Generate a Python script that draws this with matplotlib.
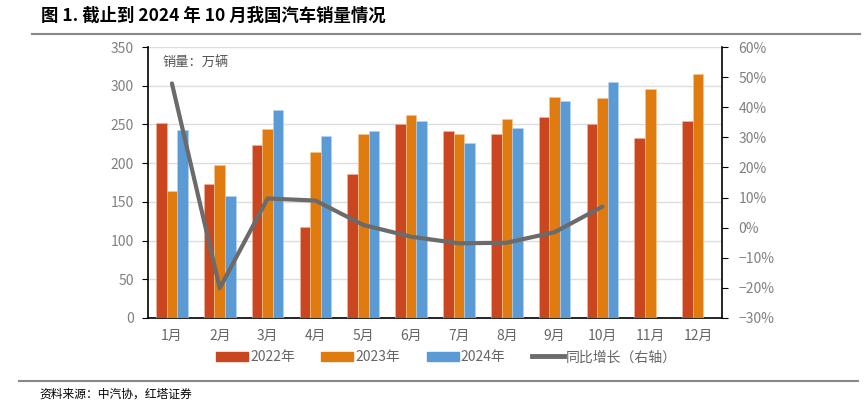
import numpy as np
import matplotlib.pyplot as plt
from matplotlib.lines import Line2D
from matplotlib.patches import Patch

plt.rcParams['font.family'] = ['Noto Sans CJK SC', 'DejaVu Sans']

months = ['1月', '2月', '3月', '4月', '5月', '6月', '7月', '8月', '9月', '10月', '11月', '12月']
sales_2022 = [252, 173, 223, 117, 186, 250, 242, 238, 260, 250, 232, 255]
sales_2023 = [164, 197, 244, 215, 238, 262, 238, 257, 285, 284, 296, 315]
sales_2024 = [243, 158, 269, 235, 241, 255, 226, 245, 280, 305, np.nan, np.nan]
yoy = [47.9, -20.1, 9.7, 9.0, 0.9, -3.0, -5.2, -5.0, -1.5, 7.0]  # %

c22 = '#C9461F'
c23 = '#E07B10'
c24 = '#5B9BD5'
cline = '#6B6B6B'
tick_c = '#808080'

fig = plt.figure(figsize=(8.67, 4.16), dpi=100)
ax = fig.add_axes([0.1707, 0.2356, 0.6621, 0.6514])

x = np.arange(len(months))
w = 0.22
ax.bar(x - w, sales_2022, w, color=c22, edgecolor='#F0B8A0', linewidth=0.4, zorder=3)
ax.bar(x, sales_2023, w, color=c23, edgecolor='#F5C890', linewidth=0.4, zorder=3)
ax.bar(x + w, sales_2024, w, color=c24, edgecolor='#B8D4EE', linewidth=0.4, zorder=3)

ax.set_xlim(-0.5, 11.5)
ax.set_ylim(0, 350)
ax.set_yticks(range(0, 351, 50))
ax.set_xticks(x)
ax.set_xticklabels(months)
ax.yaxis.grid(True, color='#DDDDDD', linewidth=1, zorder=0)
ax.tick_params(axis='both', colors=tick_c, labelsize=10, length=0, pad=6)
ax.tick_params(axis='y', length=4, direction='out', color='black', labelcolor=tick_c)
ax.tick_params(axis='x', labelcolor='#666666', pad=8)
for s in ['left', 'bottom']:
    ax.spines[s].set_color('black')
    ax.spines[s].set_linewidth(1.2)
ax.spines['top'].set_visible(False)
ax.spines['right'].set_visible(False)

ax.text(0.025, 0.945, '销量：万辆', transform=ax.transAxes, fontsize=9.5,
        color='#555555', va='center', ha='left')

ax2 = ax.twinx()
ax2.plot(x[:len(yoy)], yoy, color=cline, linewidth=3, zorder=5, solid_capstyle='round')
ax2.set_ylim(-30, 60)
ax2.set_yticks(range(-30, 61, 10))
ax2.set_yticklabels([f'{v}%'.replace('-', '−') for v in range(-30, 61, 10)])
ax2.tick_params(axis='y', colors='black', labelcolor=tick_c, labelsize=10, length=4, pad=8)
for s in ['left', 'top', 'bottom']:
    ax2.spines[s].set_visible(False)
ax2.spines['right'].set_color('black')
ax2.spines['right'].set_linewidth(1.2)

handles = [Patch(color=c22, label='2022年'), Patch(color=c23, label='2023年'),
           Patch(color=c24, label='2024年'),
           Line2D([0], [0], color=cline, linewidth=3.5, label='同比增长（右轴）')]
fig.legend(handles=handles, loc='center', bbox_to_anchor=(0.515, 0.141), ncol=4,
           frameon=False, fontsize=10, labelcolor='#666666', handlelength=2.3,
           handleheight=0.7, columnspacing=1.9, handletextpad=0.15)

# title and rules
fig.text(0.047, 0.963, '图 1. 截止到 2024 年 10 月我国汽车销量情况', fontsize=12.5,
         fontweight='bold', color='black', va='center', ha='left')
fig.add_artist(Line2D([0.037, 0.992], [0.919, 0.919], color='#888888', linewidth=1.5))
fig.add_artist(Line2D([0.022, 0.99], [0.084, 0.084], color='#888888', linewidth=1.5))
fig.text(0.046, 0.053, '资料来源：中汽协，红塔证券', fontsize=8.5, color='black',
         va='center', ha='left')

fig.savefig('out.png', dpi=100)
